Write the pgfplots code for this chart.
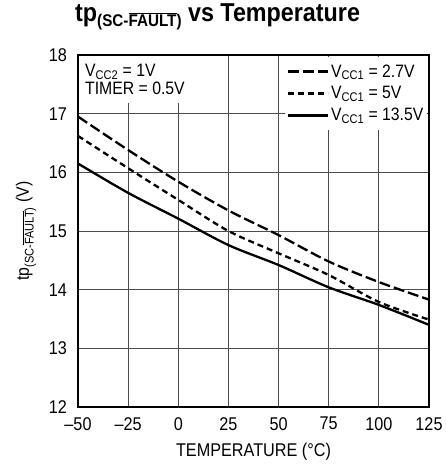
\documentclass[border=0pt]{standalone}
\usepackage{fontspec}
\setmainfont{Liberation Sans}[FakeStretch=0.88]
\newfontfamily\titlefont{Liberation Sans}[FakeStretch=0.9]
\usepackage{pgfplots}
\pgfplotsset{compat=1.18}
\usetikzlibrary{calc}
\begin{document}
\begin{tikzpicture}
\begin{axis}[
  scale only axis, width=351bp, height=352bp,
  xmin=-50, xmax=125, ymin=12, ymax=18,
  xtick={-50,-25,...,125},
  xticklabels={\textendash50,\textendash25,0,25,50,75,100,125},
  ytick={12,13,...,18},
  /pgf/number format/assume math mode=true,
  tick label style={font=\fontsize{18.5}{21}\selectfont},
  xticklabel style={inner sep=0pt, yshift=-10bp},
  yticklabel style={inner sep=0pt, xshift=-11bp},
  major tick length=0pt,
  grid=major, grid style={line width=0.9bp, black!70},
  axis line style={line width=1.4bp},
  xlabel={TEMPERATURE (°C)},
  xlabel style={at={(axis description cs:0.5,-0.142)}, anchor=base, font=\fontsize{18.5}{21}\selectfont},
  ylabel={tp\textsubscript{(SC-$\overline{\mbox{FAULT}}$)} (V)},
  ylabel style={at={(axis description cs:-0.148,0.5)}, anchor=center, font=\fontsize{18}{21}\selectfont},
  title={\titlefont\bfseries tp\raisebox{-5bp}{\fontsize{17}{17}\selectfont(SC-$\overline{\mbox{\titlefont\bfseries FAULT}}$)} vs Temperature},
  title style={at={(axis description cs:-0.0085,1)}, anchor=base west, inner sep=0pt, yshift=28bp, font=\fontsize{26}{28}\selectfont},
  legend style={at={(0.996,0.996)}, anchor=north east, draw=none, fill=white,
    font=\fontsize{18}{19}\selectfont, row sep=4bp, inner xsep=2bp, inner ysep=6bp},
  legend cell align=left,
  legend image code/.code={\draw[#1] (0bp,0bp) -- (40bp,0bp);},
]
\coordinate (SW) at (rel axis cs:0,0);
\coordinate (NE) at (rel axis cs:1,1);
\addplot[black, line width=2.3bp, smooth, dash pattern=on 11bp off 4bp] coordinates {
(-50,16.95) (-25,16.38) (0,15.84) (25,15.35) (50,14.93) (75,14.48) (100,14.13) (125,13.83)};
\addlegendentry{V\textsubscript{CC1} = 2.7V}
\addplot[black, line width=2.3bp, smooth, dash pattern=on 6bp off 4bp] coordinates {
(-50,16.62) (-25,16.07) (0,15.53) (25,15.00) (50,14.62) (75,14.25) (100,13.79) (125,13.49)};
\addlegendentry{V\textsubscript{CC1} = 5V}
\addplot[black, line width=2.3bp, smooth] coordinates {
(-50,16.15) (-25,15.65) (0,15.21) (25,14.76) (50,14.42) (75,14.04) (100,13.74) (125,13.40)};
\addlegendentry{V\textsubscript{CC1} = 13.5V}
\node[anchor=north west, fill=white, align=left, inner xsep=6bp, inner ysep=8bp,
  font=\fontsize{18}{18.5}\selectfont] at ([xshift=1bp,yshift=-1bp]rel axis cs:0,1)
  {V\textsubscript{CC2} = 1V\\TIMER = 0.5V};
\end{axis}
\pgfresetboundingbox
\path[use as bounding box] ($(SW)+(-78bp,-59bp)$) rectangle ($(NE)+(16bp,55bp)$);
\end{tikzpicture}
\end{document}
